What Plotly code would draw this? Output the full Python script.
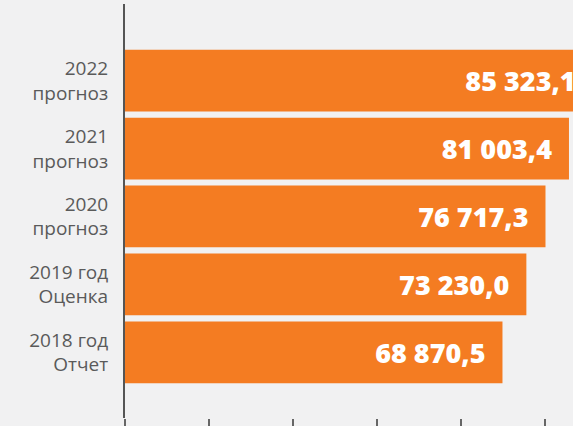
import plotly.graph_objects as go

categories = ["2018 год<br>Отчет", "2019 год<br>Оценка", "2020<br>прогноз", "2021<br>прогноз", "2022<br>прогноз"]
values = [68870.5, 73230.0, 76717.3, 81003.4, 85323.1]


def fmt(v):
    s = f"{v:,.1f}"
    return s.replace(",", " ").replace(".", ",")


labels = [fmt(v) + "\u00a0\u00a0" for v in values]

fig = go.Figure(
    go.Bar(
        x=values,
        y=categories,
        orientation="h",
        marker=dict(color="#F47C22", line=dict(width=0)),
        text=labels,
        textposition="inside",
        insidetextanchor="end",
        textfont=dict(family="Open Sans", size=27, color="white", weight=800),
        cliponaxis=True,
    )
)

fig.update_layout(
    width=573,
    height=426,
    margin=dict(l=125, r=0, t=4, b=6),
    paper_bgcolor="#F1F1F2",
    plot_bgcolor="rgba(0,0,0,0)",
    bargap=0.09,
    showlegend=False,
    uniformtext=dict(mode=False),
)

fig.update_xaxes(
    range=[0, 81737],
    tick0=0,
    dtick=15330,
    ticks="outside",
    ticklen=8,
    tickwidth=2,
    tickcolor="#666666",
    showticklabels=False,
    showgrid=False,
    zeroline=False,
    showline=False,
)

fig.update_yaxes(
    type="category",
    categoryorder="array",
    categoryarray=categories,
    range=[-0.967, 5.128],
    showline=True,
    linecolor="#555555",
    linewidth=2,
    showgrid=False,
    zeroline=False,
    ticks="",
    ticklabelstandoff=11,
    tickfont=dict(family="Open Sans", size=19, color="#5A5A5A"),
)

fig.write_html(
    "out.html",
    config={"displayModeBar": False},
    post_script="document.body.style.margin='0';document.body.style.overflow='hidden';",
)
